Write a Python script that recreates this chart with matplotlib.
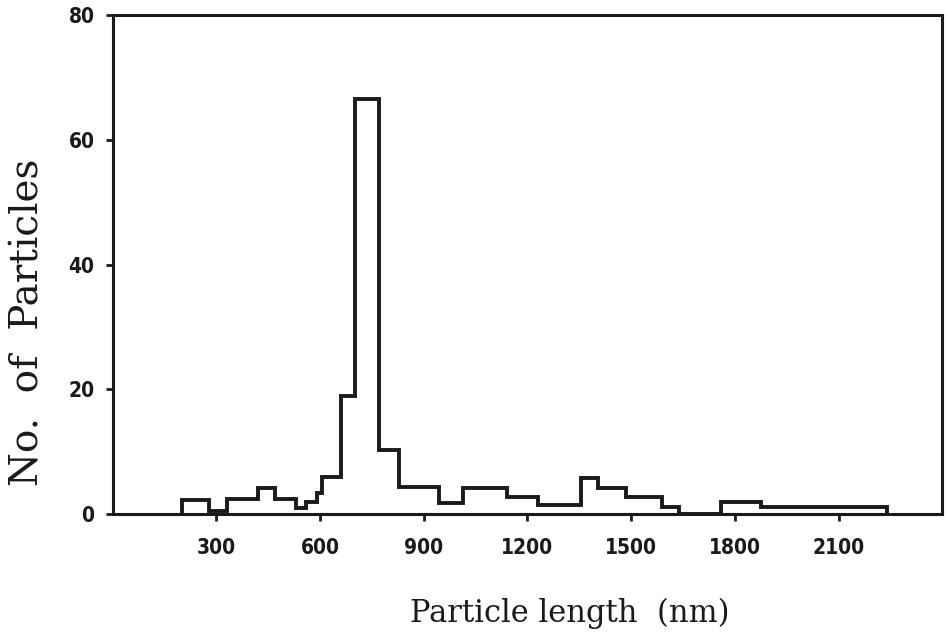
# Histogram of particle lengths (stepped outline, scanned-figure style)

import numpy as np
import matplotlib.pyplot as plt

# bin edges (nm) and counts
edges = [200, 280, 330, 420, 470, 530, 560, 590, 605, 660, 700, 770, 830,
         945, 1015, 1140, 1230, 1355, 1405, 1485, 1590, 1640, 1760, 1875, 2240]
counts = [2.3, 0.5, 2.4, 4.2, 2.4, 1.0, 2.0, 3.4, 6.0, 19.0, 66.5, 10.3, 4.4,
          1.8, 4.2, 2.7, 1.5, 5.8, 4.2, 2.7, 1.2, 0.0, 1.9, 1.2]

xticks = [300, 600, 900, 1200, 1500, 1800, 2100]
yticks = [0, 20, 40, 60, 80]

fig = plt.figure(figsize=(9.46, 6.42), dpi=100)
ax = fig.add_axes([0.119, 0.199, 0.877, 0.778])

ax.stairs(counts, edges, baseline=0, color='#1a1a1a', linewidth=2.8)

ax.set_xlim(0, 2400)
ax.set_ylim(0, 80)
ax.set_xticks(xticks)
ax.set_yticks(yticks)
ax.tick_params(axis='both', direction='out', length=5, width=2, color='#1a1a1a',
               labelsize=15, labelcolor='#1a1a1a')
ax.tick_params(axis='x', pad=12)
ax.tick_params(axis='y', pad=8)
for lab in ax.get_xticklabels() + ax.get_yticklabels():
    lab.set_fontstretch('condensed')
    lab.set_fontweight('bold')
for s in ax.spines.values():
    s.set_linewidth(2.2)
    s.set_color('#1a1a1a')

ax.set_xlabel("Particle length  (nm)", family='DejaVu Serif', fontsize=22,
              color='#1a1a1a')
ax.set_ylabel("No.  of  Particles", family='DejaVu Serif', fontsize=28,
              color='#1a1a1a')
ax.xaxis.set_label_coords(0.551, -0.168)
ax.yaxis.set_label_coords(-0.08, 0.385)

plt.savefig("out.png", dpi=100)
